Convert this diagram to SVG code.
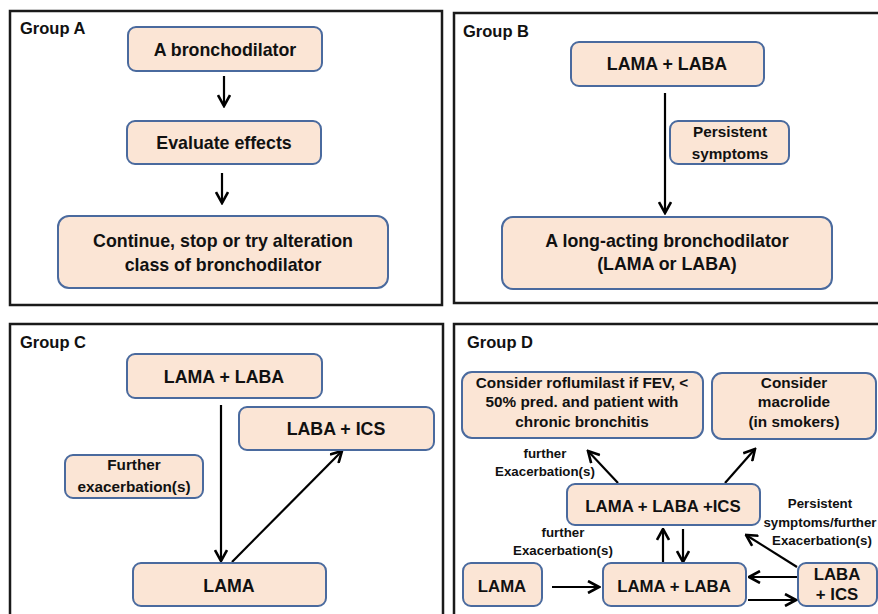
<svg xmlns="http://www.w3.org/2000/svg" width="878" height="614" viewBox="0 0 878 614">
<style>
.panel{fill:#fff;stroke:#1a1a1a;stroke-width:2.5}
.box{fill:#FBE5D5;stroke:#4A6A9E;stroke-width:2}
.t{font-family:"Liberation Sans",Arial,sans-serif;font-weight:bold;fill:#111;text-anchor:middle}
.title{font-family:"Liberation Sans",Arial,sans-serif;font-weight:bold;fill:#111;font-size:16.5px}
.m{font-size:17.8px}
.d{font-size:16.8px}
.s{font-size:15.3px}
.x{font-size:13.3px}
.c{stroke:#000;stroke-width:2.2;fill:none;marker-end:url(#ah)}
</style>
<defs>
<marker id="ah" viewBox="0 0 14 14" refX="12.5" refY="7" markerWidth="14" markerHeight="14" markerUnits="userSpaceOnUse" orient="auto">
<path d="M1.5,1 L12.5,7 L1.5,13" fill="none" stroke="#000" stroke-width="2.6"/>
</marker>
</defs>
<rect width="878" height="614" fill="#fff"/>
<g id="panels">
<rect class="panel" x="10" y="11" width="432" height="294"/>
<rect class="panel" x="454" y="13" width="440" height="290"/>
<rect class="panel" x="10" y="324" width="433" height="300"/>
<rect class="panel" x="454" y="324" width="440" height="300"/>
<text class="title" x="20" y="34">Group A</text>
<text class="title" x="463" y="37">Group B</text>
<text class="title" x="20" y="348">Group C</text>
<text class="title" x="467" y="348">Group D</text>
</g>
<g id="connectors">
<line class="c" x1="224" y1="76" x2="224" y2="106"/>
<line class="c" x1="222" y1="173" x2="222" y2="203"/>
<line class="c" x1="665" y1="93" x2="665" y2="213"/>
<line class="c" x1="221" y1="405" x2="221" y2="561"/>
<line class="c" x1="232" y1="562" x2="342" y2="451"/>
<line class="c" x1="618" y1="483" x2="588" y2="451"/>
<line class="c" x1="725" y1="483" x2="755" y2="449"/>
<line class="c" x1="663" y1="562" x2="663" y2="529"/>
<line class="c" x1="683" y1="529" x2="683" y2="562"/>
<line class="c" x1="552" y1="587" x2="599" y2="587"/>
<line class="c" x1="797" y1="577" x2="749" y2="577"/>
<line class="c" x1="748" y1="600" x2="796" y2="600"/>
<line class="c" x1="797" y1="567" x2="746" y2="535"/>
</g>
<g id="a1"><rect class="box" x="128" y="27" width="194" height="44" rx="8"/><text class="t m" x="225" y="56">A bronchodilator</text></g>
<g id="a2"><rect class="box" x="127" y="121" width="194" height="43" rx="8"/><text class="t m" x="224" y="149">Evaluate effects</text></g>
<g id="a3"><rect class="box" x="58" y="216" width="330" height="72" rx="11"/><text class="t m" x="223" y="247">Continue, stop or try alteration</text><text class="t m" x="223" y="271">class of bronchodilator</text></g>
<g id="b1"><rect class="box" x="571" y="42" width="193" height="44" rx="8"/><text class="t m" x="667" y="70">LAMA + LABA</text></g>
<g id="b-label"><rect class="box" x="670" y="121" width="119" height="43" rx="8"/><text class="t s" x="730" y="137">Persistent</text><text class="t s" x="730" y="159">symptoms</text></g>
<g id="b2"><rect class="box" x="502" y="217" width="330" height="72" rx="11"/><text class="t m" x="667" y="247">A long-acting bronchodilator</text><text class="t m" x="667" y="270">(LAMA or LABA)</text></g>
<g id="c1"><rect class="box" x="127" y="354" width="195" height="44" rx="8"/><text class="t m" x="224" y="383">LAMA + LABA</text></g>
<g id="c2"><rect class="box" x="239" y="407" width="195" height="43" rx="8"/><text class="t m" x="336" y="435">LABA + ICS</text></g>
<g id="c-label"><rect class="box" x="65" y="455" width="138" height="43" rx="8"/><text class="t s" x="134" y="470">Further</text><text class="t s" x="134" y="492">exacerbation(s)</text></g>
<g id="c3"><rect class="box" x="133" y="563" width="193" height="43" rx="8"/><text class="t m" x="229" y="592">LAMA</text></g>
<g id="d-roflumilast"><rect class="box" x="462" y="372" width="241" height="66" rx="10"/><text class="t s" x="582" y="388">Consider roflumilast if FEV, &lt;</text><text class="t s" x="582" y="407">50% pred. and patient with</text><text class="t s" x="582" y="427">chronic bronchitis</text></g>
<g id="d-macrolide"><rect class="box" x="712" y="373" width="164" height="66" rx="10"/><text class="t s" x="794" y="388">Consider</text><text class="t s" x="794" y="407">macrolide</text><text class="t s" x="794" y="427">(in smokers)</text></g>
<g id="d-triple"><rect class="box" x="567" y="484" width="193" height="41" rx="8"/><text class="t d" x="663" y="512">LAMA + LABA +ICS</text></g>
<g id="d-lama"><rect class="box" x="463" y="563" width="79" height="43" rx="8"/><text class="t d" x="502" y="592">LAMA</text></g>
<g id="d-lamalaba"><rect class="box" x="603" y="563" width="143" height="43" rx="8"/><text class="t d" x="674" y="592">LAMA + LABA</text></g>
<g id="d-labaics"><rect class="box" x="798" y="563" width="79" height="43" rx="8"/><text class="t d" x="837" y="580">LABA</text><text class="t d" x="837" y="600">+ ICS</text></g>
<g id="d-labels">
<text class="t x" x="545" y="458">further</text><text class="t x" x="545" y="476">Exacerbation(s)</text>
<text class="t x" x="563" y="537">further</text><text class="t x" x="563" y="555">Exacerbation(s)</text>
<text class="t x" x="820" y="508">Persistent</text><text class="t x" x="820" y="527">symptoms/further</text><text class="t x" x="822" y="545">Exacerbation(s)</text>
</g>
</svg>
